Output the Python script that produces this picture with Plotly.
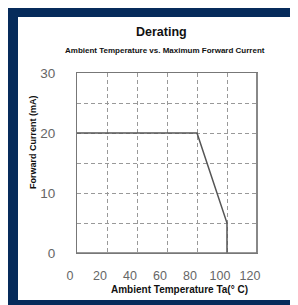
import plotly.graph_objects as go

# Data
temperature = [0, 80, 100, 100]
forward_current = [20, 20, 5, 0]
x_ticks = [0, 20, 40, 60, 80, 100, 120]
y_ticks = [0, 10, 20, 30]

OFF = 8  # page body margin
W, H = 298 - OFF, 305 - OFF
# plot area in page pixel coordinates
L, R, T, B = 77, 257, 73, 253
pw, ph = R - L, B - T

def px(x):
    return (x - L) / pw

def py(y):
    return (B - y) / ph

navy = "#062b5b"
font = "Liberation Sans, Arial"

fig = go.Figure()
fig.add_trace(go.Scatter(
    x=temperature, y=forward_current, mode="lines",
    line=dict(color="#555555", width=1.5), showlegend=False, hoverinfo="skip",
))

fig.update_layout(
    width=W, height=H,
    margin=dict(l=L - OFF, r=298 - R, t=T - OFF, b=305 - B),
    paper_bgcolor="white", plot_bgcolor="white",
    xaxis=dict(
        range=[0, 120], tickvals=x_ticks, ticktext=[str(v) for v in x_ticks],
        showgrid=True, gridcolor="#999999", griddash="4px,3px", gridwidth=1,
        showline=True, linecolor="#777777", linewidth=1, mirror=True,
        zeroline=False, ticks="", ticklabelstandoff=11, ticklabelshift=-7,
        tickfont=dict(family=font, size=12.5, color="#666666"),
        fixedrange=True,
    ),
    yaxis=dict(
        range=[0, 30], tickvals=[0, 5, 10, 15, 20, 25, 30],
        ticktext=["0", "", "10", "", "20", "", "30"],
        showgrid=True, gridcolor="#999999", griddash="4px,3px", gridwidth=1,
        showline=True, linecolor="#777777", linewidth=1, mirror=True,
        zeroline=False, ticks="", ticklabelstandoff=18,
        tickfont=dict(family=font, size=13.5, color="#666666"),
        fixedrange=True,
    ),
    shapes=[
        dict(type="rect", xref="paper", yref="paper", x0=px(0), x1=px(18), y0=py(320), y1=py(0),
             fillcolor=navy, line=dict(width=0), layer="below"),
        dict(type="rect", xref="paper", yref="paper", x0=px(0), x1=px(310), y0=py(17), y1=py(0),
             fillcolor=navy, line=dict(width=0), layer="below"),
        dict(type="rect", xref="paper", yref="paper", x0=px(0), x1=px(310), y0=py(320), y1=py(300),
             fillcolor=navy, line=dict(width=0), layer="below"),
        dict(type="line", xref="paper", yref="paper", x0=1, x1=1, y0=0, y1=1,
             line=dict(color="#888888", width=2)),
        dict(type="line", xref="paper", yref="paper", x0=0, x1=1, y0=0, y1=0,
             line=dict(color="#777777", width=1.5)),
    ],
    annotations=[
        dict(text="<b>Derating</b>", xref="paper", yref="paper", x=px(161.5), y=py(32),
             xanchor="center", yanchor="middle", showarrow=False,
             font=dict(family=font, size=12.5, color="#111111")),
        dict(text="<b>Ambient Temperature vs. Maximum Forward Current</b>", xref="paper", yref="paper",
             x=px(165), y=py(50), xanchor="center", yanchor="middle", showarrow=False,
             font=dict(family=font, size=8, color="#111111")),
        dict(text="<b>Ambient Temperature Ta(° C)</b>", xref="paper", yref="paper",
             x=px(179), y=py(289), xanchor="center", yanchor="middle", showarrow=False,
             font=dict(family=font, size=10, color="#111111")),
        dict(text="<b>Forward Current (mA)</b>", xref="paper", yref="paper",
             x=px(33), y=py(142), xanchor="center", yanchor="middle", showarrow=False,
             textangle=-90, font=dict(family=font, size=9, color="#111111")),
    ],
)

fig.write_html("out.html")
